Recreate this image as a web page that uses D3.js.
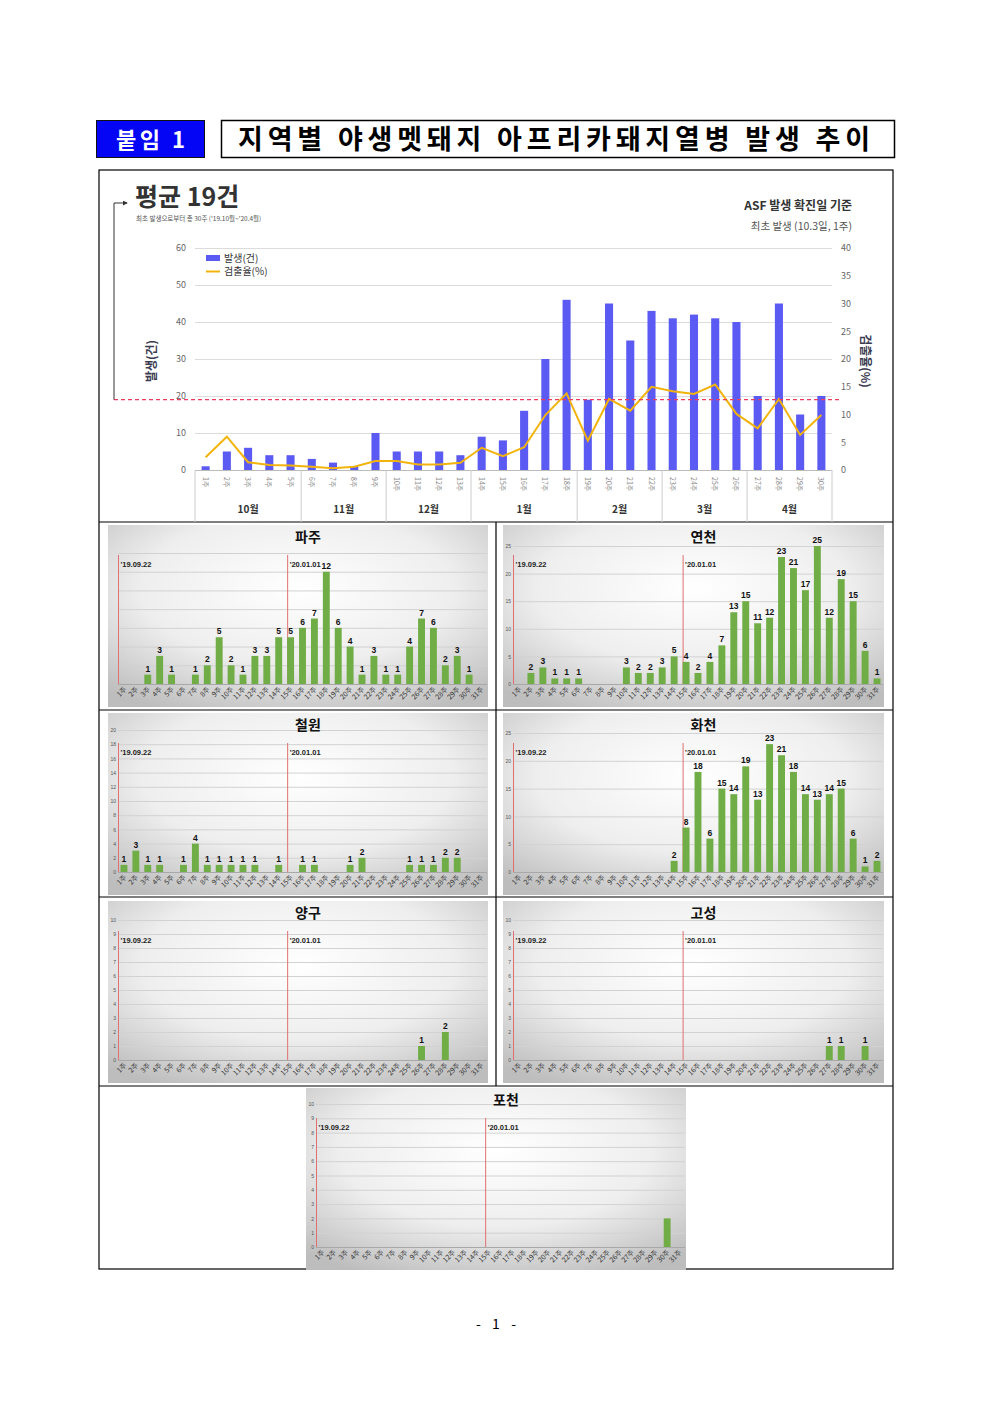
<!DOCTYPE html>
<html>
<head>
<meta charset="utf-8">
<script src="https://cdn.jsdelivr.net/npm/d3@7"></script>
<style>
  body { margin: 0; background: #fff; }
  svg { display: block; }
</style>
</head>
<body>
<svg id="page"></svg>
<script>
// 전국 주별 발생 (30주)
const weeks = ['1주','2주','3주','4주','5주','6주','7주','8주','9주','10주','11주','12주','13주','14주','15주',
               '16주','17주','18주','19주','20주','21주','22주','23주','24주','25주','26주','27주','28주','29주','30주']
const weeks31 = weeks.concat(['31주'])
const months = ['10월','11월','12월','1월','2월','3월','4월']
const monthWeeks = [5, 4, 4, 5, 4, 4, 4]
const cases = [1,5,6,4,4,3,2,1,10,5,5,5,4,9,8,16,30,46,19,45,35,43,41,42,41,40,20,45,15,20]
const rate = [2.3,6.0,1.4,0.9,0.8,0.6,0.3,0.6,1.6,1.6,1.0,1.0,1.3,4.0,2.5,4.1,9.9,13.8,5.3,12.8,10.7,15.0,14.2,13.7,15.4,10.1,7.5,12.8,6.3,9.9]
const average = 19
const leftTicks = [0,10,20,30,40,50,60]
const rightTicks = [0,5,10,15,20,25,30,35,40]

// 지역별 주별 발생 (31주)
const paju      = [0,0,1,3,1,0,1,2,5,2,1,3,3,5,5,6,7,12,6,4,1,3,1,1,4,7,6,2,3,1,0]
const yeoncheon = [0,2,3,1,1,1,0,0,0,3,2,2,3,5,4,2,4,7,13,15,11,12,23,21,17,25,12,19,15,6,1]
const cheorwon  = [1,3,1,1,0,1,4,1,1,1,1,1,0,1,0,1,1,0,0,1,2,0,0,0,1,1,1,2,2,0,0]
const hwacheon  = [0,0,0,0,0,0,0,0,0,0,0,0,0,2,8,18,6,15,14,19,13,23,21,18,14,13,14,15,6,1,2]
const yanggu    = [0,0,0,0,0,0,0,0,0,0,0,0,0,0,0,0,0,0,0,0,0,0,0,0,0,1,0,2,0,0,0]
const goseong   = [0,0,0,0,0,0,0,0,0,0,0,0,0,0,0,0,0,0,0,0,0,0,0,0,0,0,1,1,0,1,0]
const pocheon   = [0,0,0,0,0,0,0,0,0,0,0,0,0,0,0,0,0,0,0,0,0,0,0,0,0,0,0,0,0,2,0]

const KR = '"Noto Sans CJK KR", "Noto Sans", sans-serif'
const AR = '"Liberation Sans", Arial, sans-serif'

let width = 992
let height = 1403
let svg = d3.select('#page').attr('width', width).attr('height', height)
svg.append('rect').attr('width', width).attr('height', height).attr('fill', '#fff')

let defs = svg.append('defs')
let grad = defs.append('radialGradient').attr('id', 'panelBg')
    .attr('cx', '50%').attr('cy', '35%').attr('r', '75%')
grad.append('stop').attr('offset', '0%').attr('stop-color', '#ffffff')
grad.append('stop').attr('offset', '55%').attr('stop-color', '#eeeeee')
grad.append('stop').attr('offset', '100%').attr('stop-color', '#bdbdbd')
defs.append('marker').attr('id', 'arrow').attr('viewBox', '0 0 6 6')
    .attr('refX', 5).attr('refY', 3).attr('markerWidth', 5).attr('markerHeight', 5)
    .attr('orient', 'auto')
    .append('path').attr('d', 'M0,0 L6,3 L0,6 Z').attr('fill', '#333')

// ---- 머리말 ----
const drawHeader = () => {
    svg.append('rect').attr('x', 96.5).attr('y', 120.5).attr('width', 108).attr('height', 37)
       .attr('fill', '#0505f5').attr('stroke', '#111').attr('stroke-width', 1)
    svg.append('text').attr('x', 116).attr('y', 148)
       .attr('font-family', KR).attr('font-weight', 700).attr('font-size', 22).attr('fill', '#fff')
       .attr('textLength', 69).attr('lengthAdjust', 'spacing')
       .text('붙임 1')
    svg.append('rect').attr('x', 221.5).attr('y', 120.5).attr('width', 673).attr('height', 37)
       .attr('fill', 'none').attr('stroke', '#000').attr('stroke-width', 1.5)
    svg.append('text').attr('x', 238).attr('y', 149)
       .attr('font-family', KR).attr('font-weight', 700).attr('font-size', 27).attr('fill', '#000')
       .attr('textLength', 632).attr('lengthAdjust', 'spacing')
       .text('지역별 야생멧돼지 아프리카돼지열병 발생 추이')
}

// ---- 표 테두리 ----
const drawTable = () => {
    let g = svg.append('g').attr('stroke', '#000').attr('stroke-width', 1.2).attr('fill', 'none')
    g.append('rect').attr('x', 99).attr('y', 170).attr('width', 794).attr('height', 1099)
    ;[522, 710, 897, 1086].forEach(y => {
        g.append('line').attr('x1', 99).attr('x2', 893).attr('y1', y).attr('y2', y)
    })
    g.append('line').attr('x1', 496).attr('x2', 496).attr('y1', 522).attr('y2', 1086)
}

// ---- 전국 차트 ----
const drawMain = () => {
    let x = d3.scaleBand().domain(weeks).range([195, 832]).paddingInner(0.62).paddingOuter(0.31)
    let yL = d3.scaleLinear().domain([0, 60]).range([470, 248])
    let yR = d3.scaleLinear().domain([0, 40]).range([470, 248])
    let step = x.step()
    let bnd = i => x(weeks[0]) - step * 0.31 + i * step

    // 그리드 + 왼쪽 축
    let gl = svg.append('g').attr('transform', 'translate(195,0)')
        .call(d3.axisLeft(yL).tickValues(leftTicks).tickSize(-637).tickPadding(9))
    gl.select('.domain').remove()
    gl.selectAll('.tick line').attr('stroke', '#dcdcdc')
    gl.selectAll('.tick text').attr('font-family', KR).attr('font-size', 9).attr('fill', '#666')

    let gr = svg.append('g').attr('transform', 'translate(832,0)')
        .call(d3.axisRight(yR).tickValues(rightTicks).tickSize(0).tickPadding(9))
    gr.select('.domain').remove()
    gr.selectAll('.tick text').attr('font-family', KR).attr('font-size', 9).attr('fill', '#666')

    svg.append('line').attr('x1', 195).attr('x2', 832).attr('y1', 470.5).attr('y2', 470.5)
       .attr('stroke', '#bbb')

    // 막대
    svg.selectAll('rect.case').data(cases).enter().append('rect')
       .attr('class', 'case')
       .attr('x', (d, i) => x(weeks[i]))
       .attr('width', x.bandwidth())
       .attr('y', d => yL(d))
       .attr('height', d => yL(0) - yL(d))
       .attr('fill', '#5b5bf3')

    // 검출율 선
    let line = d3.line().x((d, i) => x(weeks[i]) + x.bandwidth() / 2).y(d => yR(d))
    svg.append('path').datum(rate).attr('d', line)
       .attr('fill', 'none').attr('stroke', '#f2b40c').attr('stroke-width', 2)

    // 주 라벨
    weeks.forEach((w, i) => {
        let cx = x(w) + x.bandwidth() / 2
        svg.append('text').attr('transform', `translate(${cx - 3},477) rotate(90)`)
           .attr('font-family', KR).attr('font-size', 7).attr('fill', '#888').text(w)
    })

    // 월 구분
    let acc = 0
    svg.append('line').attr('x1', bnd(0)).attr('x2', bnd(0)).attr('y1', 470).attr('y2', 522).attr('stroke', '#ccc')
    months.forEach((m, i) => {
        let a = acc, b = acc + monthWeeks[i]
        acc = b
        svg.append('line').attr('x1', bnd(b)).attr('x2', bnd(b)).attr('y1', 470).attr('y2', 522).attr('stroke', '#ccc')
        svg.append('text').attr('x', (bnd(a) + bnd(b)) / 2).attr('y', 513).attr('text-anchor', 'middle')
           .attr('font-family', KR).attr('font-weight', 700).attr('font-size', 10).attr('fill', '#333').text(m)
    })

    // 평균선 + 괄호 화살표
    let ya = yL(average)
    svg.append('line').attr('x1', 114).attr('x2', 840).attr('y1', ya).attr('y2', ya)
       .attr('stroke', '#ef3b5c').attr('stroke-width', 1.3).attr('stroke-dasharray', '4,3')
    svg.append('path').attr('d', `M114,${ya} L114,203 L127,203`)
       .attr('fill', 'none').attr('stroke', '#333').attr('stroke-width', 1)
       .attr('marker-end', 'url(#arrow)')

    svg.append('text').attr('x', 135).attr('y', 206)
       .attr('font-family', KR).attr('font-weight', 700).attr('font-size', 25).attr('fill', '#333')
       .text('평균 19건')
    svg.append('text').attr('x', 136).attr('y', 221)
       .attr('font-family', KR).attr('font-size', 6.5).attr('fill', '#555')
       .text("최초 발생으로부터 총 30주 ('19.10월~'20.4월)")

    svg.append('text').attr('x', 852).attr('y', 210).attr('text-anchor', 'end')
       .attr('font-family', KR).attr('font-weight', 700).attr('font-size', 12).attr('fill', '#333')
       .text('ASF 발생 확진일 기준')
    svg.append('text').attr('x', 852).attr('y', 230).attr('text-anchor', 'end')
       .attr('font-family', KR).attr('font-size', 10.5).attr('fill', '#555')
       .text('최초 발생 (10.3일, 1주)')

    // 범례
    svg.append('rect').attr('x', 206).attr('y', 255).attr('width', 14).attr('height', 6).attr('fill', '#5b5bf3')
    svg.append('text').attr('x', 224).attr('y', 262).attr('font-family', KR).attr('font-size', 10).attr('fill', '#333')
       .text('발생(건)')
    svg.append('line').attr('x1', 206).attr('x2', 220).attr('y1', 271.5).attr('y2', 271.5)
       .attr('stroke', '#f2b40c').attr('stroke-width', 2)
    svg.append('text').attr('x', 224).attr('y', 275).attr('font-family', KR).attr('font-size', 10).attr('fill', '#333')
       .text('검출율(%)')

    // 축 제목
    svg.append('text').attr('transform', 'translate(156,361) rotate(-90)').attr('text-anchor', 'middle')
       .attr('font-family', KR).attr('font-weight', 700).attr('font-size', 12).attr('fill', '#3a3a50')
       .text('발생(건)')
    svg.append('text').attr('transform', 'translate(861,361) rotate(90)').attr('text-anchor', 'middle')
       .attr('font-family', KR).attr('font-weight', 700).attr('font-size', 12).attr('fill', '#3a3a50')
       .text('검출율(%)')
}

// ---- 지역 차트 ----
const drawSmall = (c) => {
    let g = svg.append('g')
    g.append('rect').attr('x', c.px).attr('y', c.py).attr('width', c.pw).attr('height', 182)
     .attr('fill', 'url(#panelBg)')

    let base = c.py + 159
    let x = d3.scaleBand().domain(weeks31).range([c.px + 10, c.px + c.pw - 1]).paddingInner(0.42).paddingOuter(0.21)
    let y = d3.scaleLinear().domain([0, c.ymax]).range([base, c.py + c.top])
    let ticks = d3.range(0, c.ymax + 0.001, c.step)

    let ga = g.append('g').attr('transform', `translate(${c.px + 10},0)`)
        .call(d3.axisLeft(y).tickValues(ticks).tickSize(-(c.pw - 11)).tickPadding(2))
    ga.select('.domain').remove()
    ga.selectAll('.tick line').attr('stroke', '#d2d2d2')
    ga.selectAll('.tick text').attr('font-family', AR).attr('font-size', 5).attr('fill', '#555')
      .attr('opacity', c.showTicks ? 1 : 0)
    g.append('line').attr('x1', c.px + 10).attr('x2', c.px + c.pw - 1).attr('y1', base + 0.5).attr('y2', base + 0.5)
     .attr('stroke', '#a8a8a8')

    g.append('text').attr('x', c.px + c.pw / 2 + 10).attr('y', c.py + 17).attr('text-anchor', 'middle')
     .attr('font-family', KR).attr('font-weight', 700).attr('font-size', 14).attr('fill', '#111')
     .text(c.name)

    // 기준선
    let l1 = x(weeks31[0]) - 2, l2 = x(weeks31[14]) + 0.5
    ;[[l1, "'19.09.22"], [l2, "'20.01.01"]].forEach(([lx, t]) => {
        g.append('line').attr('x1', lx).attr('x2', lx).attr('y1', c.py + 30).attr('y2', base)
         .attr('stroke', '#e07070').attr('stroke-width', 1)
        g.append('text').attr('x', lx + 2).attr('y', c.py + 42)
         .attr('font-family', AR).attr('font-weight', 700).attr('font-size', 7.5).attr('fill', '#222').text(t)
    })

    g.selectAll('rect.bar').data(c.data).enter().append('rect')
     .attr('class', 'bar')
     .attr('x', (d, i) => x(weeks31[i]))
     .attr('width', x.bandwidth())
     .attr('y', d => y(d))
     .attr('height', d => base - y(d))
     .attr('fill', '#70ad47')

    if (c.labels) {
        c.data.forEach((d, i) => {
            if (d <= 0) return
            g.append('text').attr('x', x(weeks31[i]) + x.bandwidth() / 2).attr('y', y(d) - 3)
             .attr('text-anchor', 'middle').attr('font-family', AR).attr('font-weight', 700)
             .attr('font-size', 8.5).attr('fill', '#111').text(d)
        })
    }

    weeks31.forEach(w => {
        let cx = x(w) + x.bandwidth() / 2
        g.append('text').attr('transform', `translate(${cx + 3},${base + 6}) rotate(-45)`)
         .attr('text-anchor', 'end').attr('font-family', KR).attr('font-size', 7).attr('fill', '#333').text(w)
    })
}

drawHeader()
drawTable()
drawMain()

const panels = [
    { name: '파주', data: paju,      px: 108, py: 525,  pw: 380, ymax: 14, step: 2, top: 28, showTicks: false, labels: true },
    { name: '연천', data: yeoncheon, px: 503, py: 525,  pw: 381, ymax: 25, step: 5, top: 21, showTicks: true,  labels: true },
    { name: '철원', data: cheorwon,  px: 108, py: 713,  pw: 380, ymax: 20, step: 2, top: 17, showTicks: true,  labels: true },
    { name: '화천', data: hwacheon,  px: 503, py: 713,  pw: 381, ymax: 25, step: 5, top: 20, showTicks: true,  labels: true },
    { name: '양구', data: yanggu,    px: 108, py: 901,  pw: 380, ymax: 10, step: 1, top: 19, showTicks: true,  labels: true },
    { name: '고성', data: goseong,   px: 503, py: 901,  pw: 381, ymax: 10, step: 1, top: 19, showTicks: true,  labels: true },
    { name: '포천', data: pocheon,   px: 306, py: 1088, pw: 380, ymax: 10, step: 1, top: 16, showTicks: true,  labels: false }
]
panels.forEach(drawSmall)

svg.append('text').attr('x', 476).attr('y', 1329)
   .attr('font-family', KR).attr('font-size', 14).attr('fill', '#000')
   .attr('textLength', 40).attr('lengthAdjust', 'spacing').text('- 1 -')
</script>
</body>
</html>
